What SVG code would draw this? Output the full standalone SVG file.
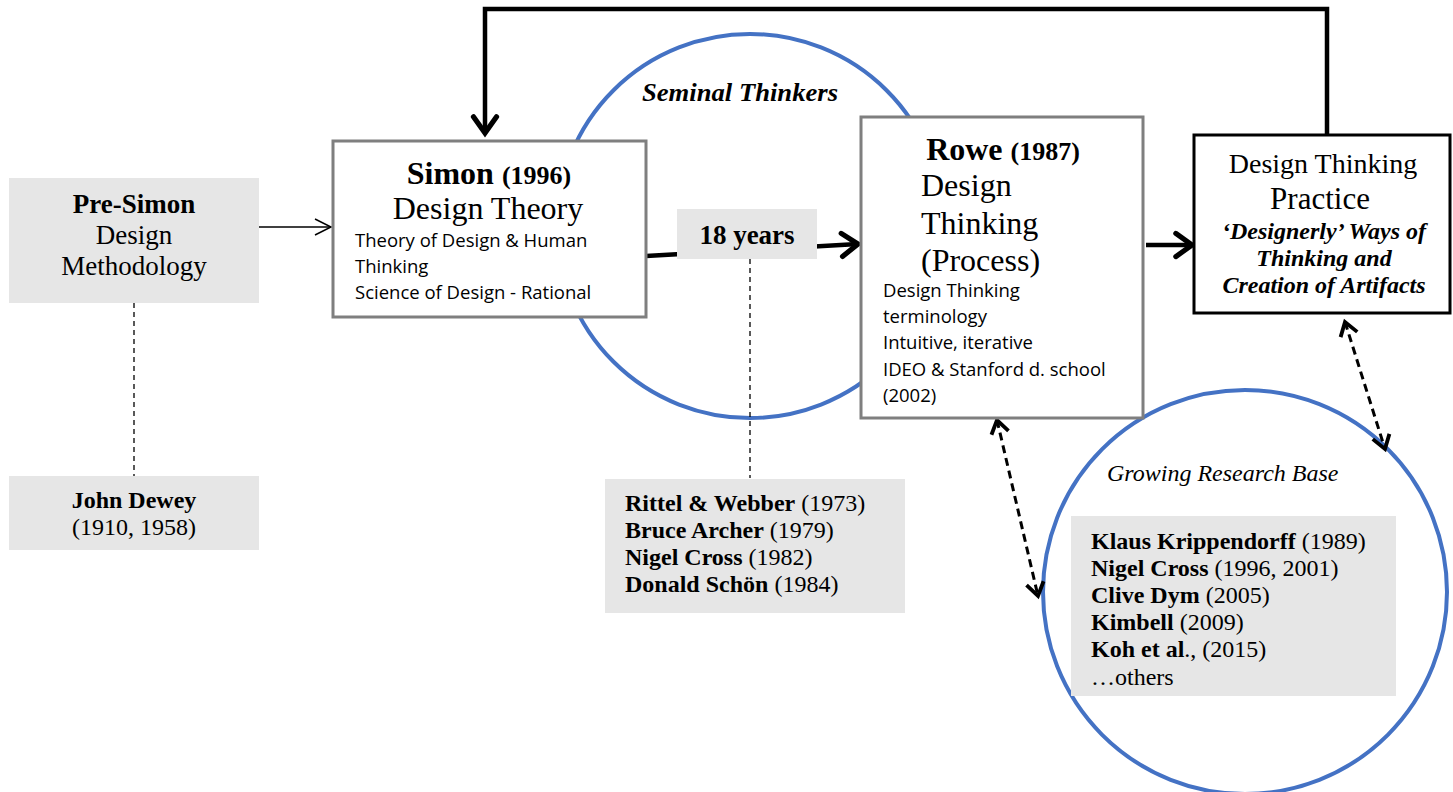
<svg xmlns="http://www.w3.org/2000/svg" width="1453" height="792" viewBox="0 0 1453 792">
<style>
.serif{font-family:"Liberation Serif","Times New Roman",serif;fill:#000}
.sans{font-family:"Open Sans","Liberation Sans",sans-serif;fill:#000;font-size:18.5px}
.gray{fill:#e6e6e6;stroke:none}
.box{fill:#fff;stroke:#7f7f7f;stroke-width:3}
.ring{fill:none;stroke:#4472c4;stroke-width:4}
.dash{fill:none;stroke:#000;stroke-width:1.3;stroke-dasharray:5,4}
.thick{fill:none;stroke:#000;stroke-width:4.5}
.ddash{fill:none;stroke:#000;stroke-width:3;stroke-dasharray:8,5}
</style>
<defs>
<marker id="thin" markerUnits="userSpaceOnUse" markerWidth="30" markerHeight="30" refX="20" refY="10" orient="auto" viewBox="0 0 30 20">
<polyline points="4,2 20,10 4,18" fill="none" stroke="#000" stroke-width="1.5"/>
</marker>
<marker id="chev" markerUnits="userSpaceOnUse" markerWidth="30" markerHeight="30" refX="22" refY="12" orient="auto" viewBox="0 0 26 24">
<polyline points="8,2 22,12 8,22" fill="none" stroke="#000" stroke-width="4.5" stroke-linecap="round" stroke-linejoin="miter"/>
</marker>
<marker id="dchev" markerUnits="userSpaceOnUse" markerWidth="24" markerHeight="24" refX="18" refY="10" orient="auto-start-reverse" viewBox="0 0 22 20">
<polyline points="6,2 18,10 6,18" fill="none" stroke="#000" stroke-width="3.5"/>
</marker>
</defs>

<g id="seminal-circle">
<ellipse class="ring" cx="750" cy="226" rx="193" ry="192"/>
<text class="serif" x="740" y="101" font-size="25" font-weight="bold" font-style="italic" text-anchor="middle" textLength="196" lengthAdjust="spacingAndGlyphs">Seminal Thinkers</text>
</g>
<g id="research-circle">
<circle class="ring" cx="1245" cy="592" r="202"/>
<text class="serif" x="1107" y="481" font-size="24" font-style="italic">Growing Research Base</text>
</g>

<g id="connectors">
<line class="dash" x1="134" y1="303" x2="134" y2="476"/>
<line class="dash" x1="750" y1="259" x2="750" y2="478"/>
<line x1="259" y1="227" x2="331" y2="227" stroke="#000" stroke-width="1.5" marker-end="url(#thin)"/>
<line class="thick" x1="646" y1="256" x2="858" y2="244" marker-end="url(#chev)"/>
<line class="thick" x1="1146" y1="245" x2="1192" y2="245" marker-end="url(#chev)"/>
<polyline class="thick" points="1327,134 1327,9 485,9 485,133" marker-end="url(#chev)"/>
<line class="ddash" x1="997" y1="420" x2="1038" y2="596" marker-start="url(#dchev)" marker-end="url(#dchev)"/>
<line class="ddash" x1="1345" y1="322" x2="1385" y2="449" marker-start="url(#dchev)" marker-end="url(#dchev)"/>
</g>

<g id="pre-simon">
<rect class="gray" x="9" y="178" width="250" height="125"/>
<text class="serif" x="134" y="213" font-size="27" text-anchor="middle"><tspan font-weight="bold">Pre-Simon</tspan><tspan x="134" y="244">Design</tspan><tspan x="134" y="275">Methodology</tspan></text>
</g>

<g id="john-dewey">
<rect class="gray" x="9" y="476" width="250" height="74"/>
<text class="serif" x="134" y="508" font-size="24" text-anchor="middle"><tspan font-weight="bold">John Dewey</tspan><tspan x="134" y="535">(1910, 1958)</tspan></text>
</g>

<g id="simon">
<rect class="box" x="333" y="141" width="313" height="176"/>
<text class="serif" x="489" y="184" text-anchor="middle" font-weight="bold"><tspan font-size="32">Simon </tspan><tspan font-size="26">(1996)</tspan></text>
<text class="serif" x="488" y="219" font-size="32" text-anchor="middle">Design Theory</text>
<text class="sans" x="355" y="247">Theory of Design &amp; Human<tspan x="355" y="273">Thinking</tspan><tspan x="355" y="299">Science of Design - Rational</tspan></text>
</g>

<g id="eighteen-years">
<rect class="gray" x="677" y="209" width="140" height="50"/>
<text class="serif" x="747" y="244" font-size="27" font-weight="bold" text-anchor="middle">18 years</text>
</g>

<g id="seminal-list">
<rect class="gray" x="605" y="479" width="300" height="134"/>
<text class="serif" x="625" y="511" font-size="24"><tspan font-weight="bold">Rittel &amp; Webber</tspan> (1973)</text>
<text class="serif" x="625" y="538" font-size="24"><tspan font-weight="bold">Bruce Archer</tspan> (1979)</text>
<text class="serif" x="625" y="565" font-size="24"><tspan font-weight="bold">Nigel Cross</tspan> (1982)</text>
<text class="serif" x="625" y="592" font-size="24"><tspan font-weight="bold">Donald Schön</tspan> (1984)</text>
</g>

<g id="rowe">
<rect class="box" x="861" y="117" width="282" height="301"/>
<text class="serif" x="1003" y="160" text-anchor="middle" font-weight="bold"><tspan font-size="32">Rowe </tspan><tspan font-size="26">(1987)</tspan></text>
<text class="serif" x="921" y="196" font-size="32">Design<tspan x="921" y="234">Thinking</tspan><tspan x="921" y="271">(Process)</tspan></text>
<text class="sans" x="883" y="297">Design Thinking<tspan x="883" y="323">terminology</tspan><tspan x="883" y="349">Intuitive, iterative</tspan><tspan x="883" y="376">IDEO &amp; Stanford d. school</tspan><tspan x="883" y="402">(2002)</tspan></text>
</g>

<g id="dt-practice">
<rect x="1194" y="135" width="256" height="178" fill="#fff" stroke="#000" stroke-width="3"/>
<text class="serif" x="1323" y="173" font-size="28" text-anchor="middle">Design Thinking</text>
<text class="serif" x="1320" y="209" font-size="31" text-anchor="middle">Practice</text>
<text class="serif" x="1324" y="239" font-size="24" font-weight="bold" font-style="italic" text-anchor="middle">‘Designerly’ Ways of<tspan x="1324" y="266">Thinking and</tspan><tspan x="1324" y="293">Creation of Artifacts</tspan></text>
</g>

<g id="research-list">
<rect class="gray" x="1071" y="516" width="325" height="180"/>
<text class="serif" x="1091" y="549" font-size="24"><tspan font-weight="bold">Klaus Krippendorff</tspan> (1989)</text>
<text class="serif" x="1091" y="576" font-size="24"><tspan font-weight="bold">Nigel Cross</tspan> (1996, 2001)</text>
<text class="serif" x="1091" y="603" font-size="24"><tspan font-weight="bold">Clive Dym</tspan> (2005)</text>
<text class="serif" x="1091" y="630" font-size="24"><tspan font-weight="bold">Kimbell</tspan> (2009)</text>
<text class="serif" x="1091" y="657" font-size="24"><tspan font-weight="bold">Koh et al</tspan>., (2015)</text>
<text class="serif" x="1091" y="685" font-size="24">…others</text>
</g>
</svg>
